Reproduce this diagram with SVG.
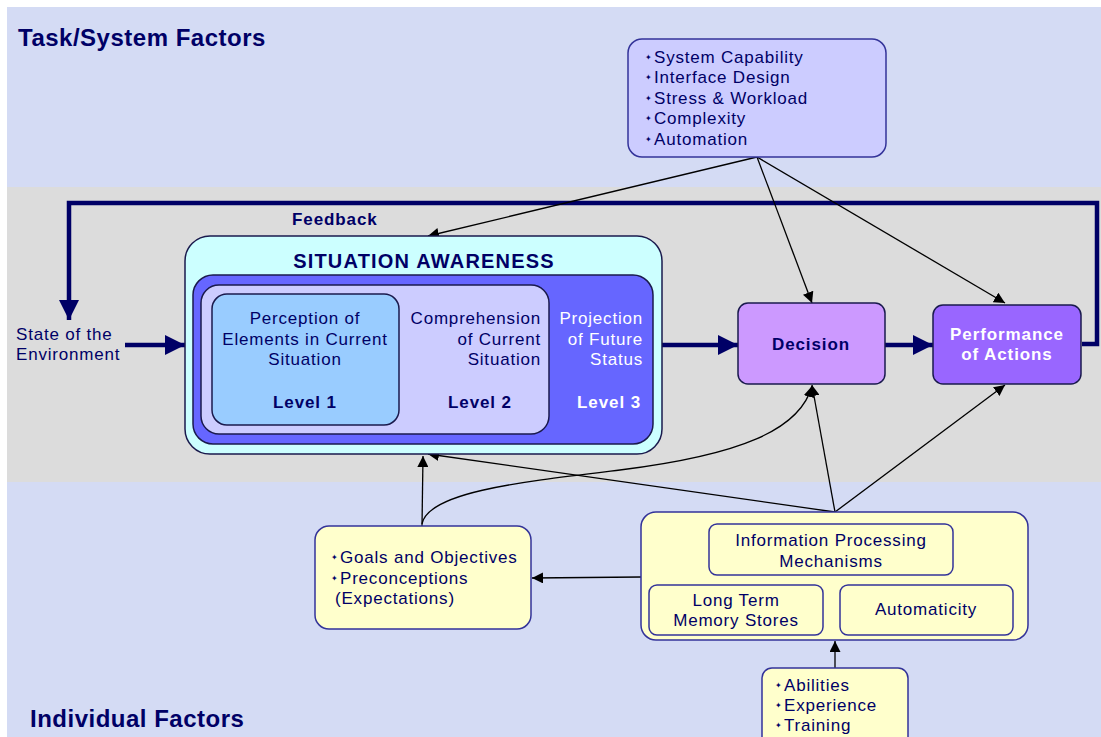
<svg xmlns="http://www.w3.org/2000/svg" width="1101" height="737" viewBox="0 0 1101 737">
<defs>
<style>
text{font-family:"Liberation Sans",Arial,sans-serif;fill:#000066;font-size:17px;letter-spacing:0.8px}
.b{font-weight:bold;letter-spacing:0.9px}
.w{fill:#ffffff}
.t{font-size:24px;font-weight:bold;letter-spacing:0.5px}
.sa{font-size:20px;font-weight:bold;letter-spacing:1.2px}
.bul{font-family:"DejaVu Sans",sans-serif;font-size:8px;letter-spacing:0}
.box{stroke:#1a1a4d;stroke-width:1.5}
.ybox{fill:#ffffcc;stroke:#333399;stroke-width:1.5}
.thick{stroke:#000066;stroke-width:4.5;fill:none}
.thin{stroke:#000;stroke-width:1.3;fill:none}
</style>
<marker id="big" viewBox="0 0 10 10" refX="10" refY="5" markerWidth="20" markerHeight="20" markerUnits="userSpaceOnUse" orient="auto"><path d="M0,0 L10,5 L0,10 z" fill="#000066"/></marker>
<marker id="sm" viewBox="0 0 10 10" refX="10" refY="5" markerWidth="11" markerHeight="11" markerUnits="userSpaceOnUse" orient="auto"><path d="M0,0 L10,5 L0,10 z" fill="#000"/></marker>
</defs>
<rect x="0" y="0" width="1101" height="737" fill="#ffffff"/>
<rect x="7" y="7" width="1094" height="180" fill="#d4dbf4"/>
<rect x="7" y="187" width="1094" height="295" fill="#dcdcdc"/>
<rect x="7" y="482" width="1094" height="255" fill="#d4dbf4"/>
<text class="t" x="18" y="46">Task/System Factors</text>
<text class="t" x="30" y="727">Individual Factors</text>

<g id="connectors">
<polyline class="thick" points="1082,344 1097,344 1097,203 69,203 69,320" marker-end="url(#big)"/>
<line class="thick" x1="125" y1="345" x2="185" y2="345" marker-end="url(#big)"/>
<line class="thick" x1="662" y1="345" x2="738" y2="345" marker-end="url(#big)"/>
<line class="thick" x1="885" y1="345" x2="933" y2="345" marker-end="url(#big)"/>
<line class="thin" x1="757" y1="157" x2="428" y2="236" marker-end="url(#sm)"/>
<line class="thin" x1="757" y1="157" x2="812" y2="303" marker-end="url(#sm)"/>
<line class="thin" x1="757" y1="157" x2="1005" y2="303" marker-end="url(#sm)"/>
<line class="thin" x1="835" y1="512" x2="812" y2="385" marker-end="url(#sm)"/>
<line class="thin" x1="835" y1="512" x2="1005" y2="385" marker-end="url(#sm)"/>
<line class="thin" x1="835" y1="512" x2="428" y2="454" marker-end="url(#sm)"/>
<line class="thin" x1="422" y1="526" x2="423" y2="456" marker-end="url(#sm)"/>
<path class="thin" d="M422,524 C428,492 520,482 620,470 C740,455 800,430 812,386" marker-end="url(#sm)"/>
<line class="thin" x1="641" y1="577" x2="532" y2="578" marker-end="url(#sm)"/>
<line class="thin" x1="835" y1="668" x2="835" y2="641" marker-end="url(#sm)"/>
</g>

<g id="task-factors">
<rect x="628" y="39" width="258" height="118" rx="14" fill="#ccccff" stroke="#333399" stroke-width="1.5"/>
<text class="bul" x="645" y="60">✦</text><text x="654" y="63">System Capability</text>
<text class="bul" x="645" y="80">✦</text><text x="654" y="83">Interface Design</text>
<text class="bul" x="645" y="101">✦</text><text x="654" y="104">Stress &amp; Workload</text>
<text class="bul" x="645" y="121">✦</text><text x="654" y="124">Complexity</text>
<text class="bul" x="645" y="142">✦</text><text x="654" y="145">Automation</text>
</g>

<text class="b" x="292" y="225">Feedback</text>

<g id="state">
<text x="16" y="340">State of the</text>
<text x="16" y="360">Environment</text>
</g>

<g id="situation-awareness">
<rect class="box" x="185" y="236" width="477" height="218" rx="25" fill="#ccffff"/>
<text class="sa" x="424" y="268" text-anchor="middle">SITUATION AWARENESS</text>
<g id="level3">
<rect class="box" x="193" y="275" width="460" height="169" rx="20" fill="#6666ff"/>
<text class="w" x="643" y="324" text-anchor="end">Projection</text>
<text class="w" x="643" y="345" text-anchor="end">of Future</text>
<text class="w" x="643" y="365" text-anchor="end">Status</text>
<text class="w b" x="641" y="408" text-anchor="end">Level 3</text>
</g>
<g id="level2">
<rect class="box" x="201" y="285" width="348" height="149" rx="18" fill="#ccccff"/>
<text x="541" y="324" text-anchor="end">Comprehension</text>
<text x="541" y="345" text-anchor="end">of Current</text>
<text x="541" y="365" text-anchor="end">Situation</text>
<text class="b" x="480" y="408" text-anchor="middle">Level 2</text>
</g>
<g id="level1">
<rect class="box" x="212" y="294" width="187" height="131" rx="15" fill="#99ccff"/>
<text x="305" y="324" text-anchor="middle">Perception of</text>
<text x="305" y="345" text-anchor="middle">Elements in Current</text>
<text x="305" y="365" text-anchor="middle">Situation</text>
<text class="b" x="305" y="408" text-anchor="middle">Level 1</text>
</g>
</g>

<g id="decision">
<rect class="box" x="738" y="303" width="147" height="81" rx="10" fill="#cc99ff"/>
<text class="b" x="811" y="350" text-anchor="middle">Decision</text>
</g>

<g id="performance">
<rect class="box" x="933" y="305" width="148" height="79" rx="10" fill="#9966ff"/>
<text class="w b" x="1007" y="340" text-anchor="middle">Performance</text>
<text class="w b" x="1007" y="360" text-anchor="middle">of Actions</text>
</g>

<g id="goals">
<rect class="ybox" x="315" y="526" width="216" height="103" rx="14"/>
<text class="bul" x="331" y="560">✦</text><text x="340" y="563">Goals and Objectives</text>
<text class="bul" x="331" y="581">✦</text><text x="340" y="584">Preconceptions</text>
<text x="335" y="604">(Expectations)</text>
</g>

<g id="individual-mechanisms">
<rect class="ybox" x="641" y="512" width="387" height="128" rx="15"/>
<g id="info-processing">
<rect class="ybox" x="709" y="524" width="244" height="51" rx="8"/>
<text x="831" y="546" text-anchor="middle">Information Processing</text>
<text x="831" y="567" text-anchor="middle">Mechanisms</text>
</g>
<g id="ltm">
<rect class="ybox" x="649" y="585" width="174" height="50" rx="8"/>
<text x="736" y="606" text-anchor="middle">Long Term</text>
<text x="736" y="626" text-anchor="middle">Memory Stores</text>
</g>
<g id="automaticity">
<rect class="ybox" x="840" y="585" width="173" height="50" rx="8"/>
<text x="926" y="615" text-anchor="middle">Automaticity</text>
</g>
</g>

<g id="abilities">
<rect class="ybox" x="762" y="668" width="146" height="80" rx="10"/>
<text class="bul" x="775" y="688">✦</text><text x="784" y="691">Abilities</text>
<text class="bul" x="775" y="708">✦</text><text x="784" y="711">Experience</text>
<text class="bul" x="775" y="728">✦</text><text x="784" y="731">Training</text>
</g>
</svg>
